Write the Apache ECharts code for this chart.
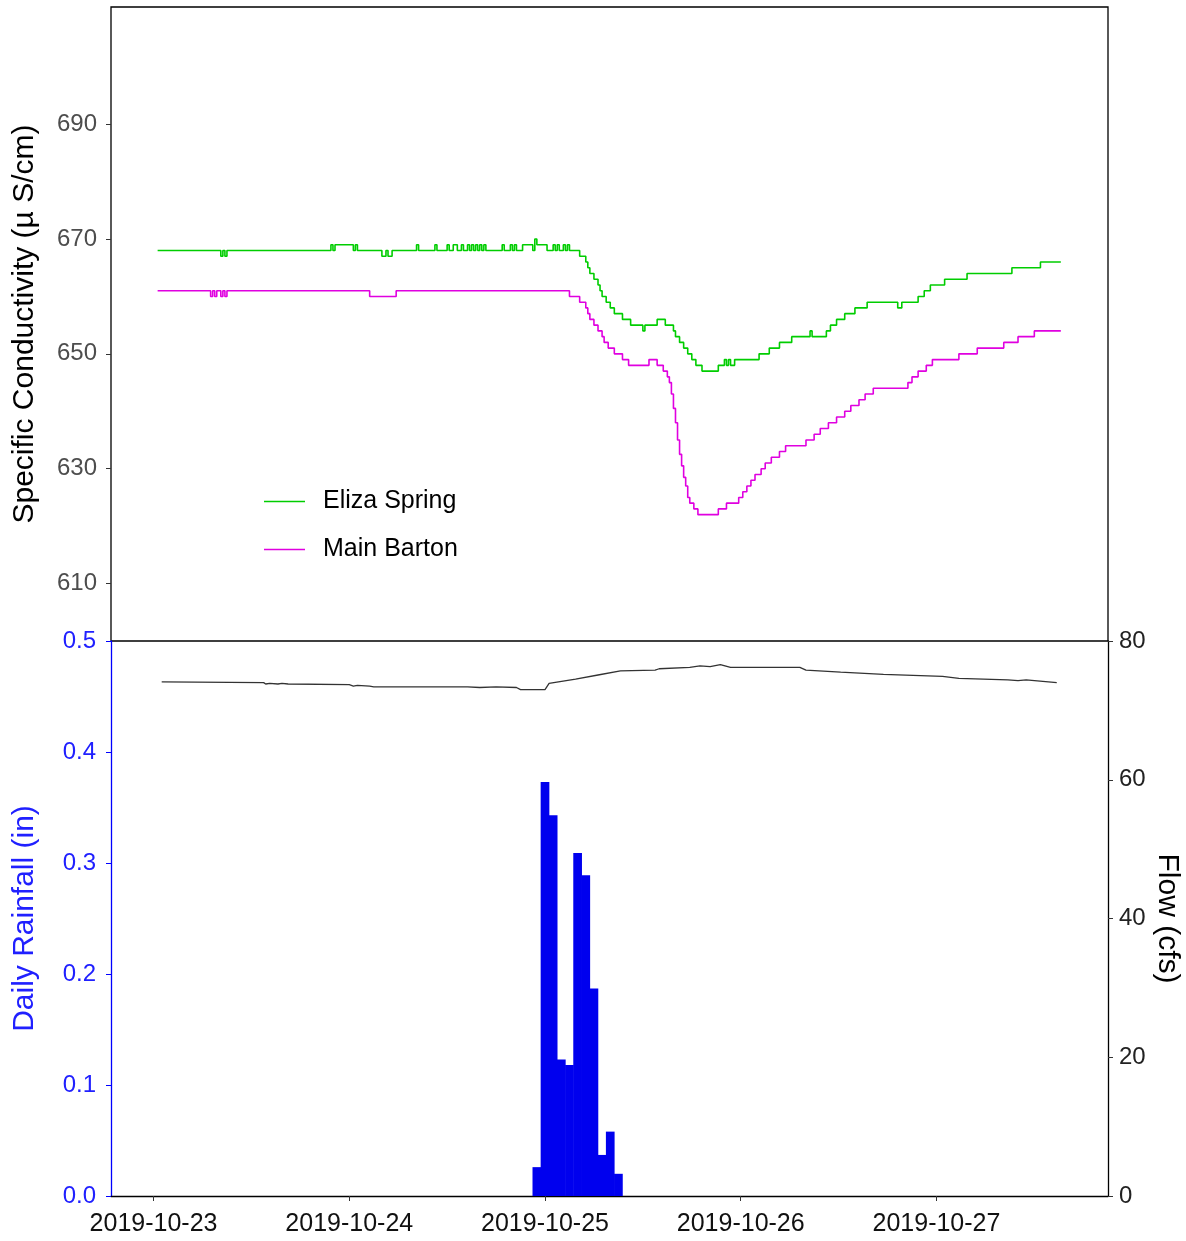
<!DOCTYPE html>
<html>
<head>
<meta charset="utf-8">
<script src="https://cdn.jsdelivr.net/npm/echarts@6/dist/echarts.min.js"></script>
<style>
  html, body { margin: 0; padding: 0; background: #fff; }
  #chart { width: 1186px; height: 1241px; }
</style>
</head>
<body>
<div id="chart"></div>
<script>
// axis ranges and tick positions
const timeMin = '2019-10-22 18:47';
const timeMax = '2019-10-27 21:02';
const dayTicks = ['2019-10-23', '2019-10-24', '2019-10-25', '2019-10-26', '2019-10-27'];
const condTicks = [610, 630, 650, 670, 690];

// specific conductivity (uS/cm), [time the value starts, value]
const elizaSpring = [
  ['2019-10-23 00:30', 668], ['2019-10-23 08:15', 667], ['2019-10-23 08:30', 668], ['2019-10-23 08:45', 667],
  ['2019-10-23 09:00', 668], ['2019-10-23 21:45', 669], ['2019-10-23 22:00', 668], ['2019-10-23 22:15', 669],
  ['2019-10-24 00:30', 668], ['2019-10-24 00:45', 669], ['2019-10-24 01:00', 668], ['2019-10-24 04:00', 667],
  ['2019-10-24 04:30', 668], ['2019-10-24 04:45', 667], ['2019-10-24 05:15', 668], ['2019-10-24 08:15', 669],
  ['2019-10-24 08:30', 668], ['2019-10-24 10:30', 669], ['2019-10-24 10:45', 668], ['2019-10-24 12:00', 669],
  ['2019-10-24 12:15', 668], ['2019-10-24 12:45', 669], ['2019-10-24 13:15', 668], ['2019-10-24 13:45', 669],
  ['2019-10-24 14:00', 668], ['2019-10-24 14:30', 669], ['2019-10-24 14:45', 668], ['2019-10-24 15:00', 669],
  ['2019-10-24 15:15', 668], ['2019-10-24 15:30', 669], ['2019-10-24 15:45', 668], ['2019-10-24 16:00', 669],
  ['2019-10-24 16:15', 668], ['2019-10-24 16:30', 669], ['2019-10-24 16:45', 668], ['2019-10-24 18:45', 669],
  ['2019-10-24 19:00', 668], ['2019-10-24 19:45', 669], ['2019-10-24 20:00', 668], ['2019-10-24 20:15', 669],
  ['2019-10-24 20:30', 668], ['2019-10-24 21:15', 669], ['2019-10-24 22:30', 668], ['2019-10-24 22:45', 670],
  ['2019-10-24 23:00', 669], ['2019-10-25 00:15', 668], ['2019-10-25 01:00', 669], ['2019-10-25 01:15', 668],
  ['2019-10-25 01:30', 669], ['2019-10-25 01:45', 668], ['2019-10-25 02:15', 669], ['2019-10-25 02:30', 668],
  ['2019-10-25 02:45', 669], ['2019-10-25 03:00', 668], ['2019-10-25 04:15', 667], ['2019-10-25 05:00', 666],
  ['2019-10-25 05:15', 665], ['2019-10-25 05:30', 664], ['2019-10-25 06:00', 663], ['2019-10-25 06:30', 662],
  ['2019-10-25 06:45', 661], ['2019-10-25 07:00', 660], ['2019-10-25 07:30', 659], ['2019-10-25 08:00', 658],
  ['2019-10-25 08:30', 657], ['2019-10-25 09:30', 656], ['2019-10-25 10:30', 655], ['2019-10-25 12:00', 654],
  ['2019-10-25 12:15', 655], ['2019-10-25 13:45', 656], ['2019-10-25 14:45', 655], ['2019-10-25 15:45', 654],
  ['2019-10-25 16:00', 653], ['2019-10-25 16:30', 652], ['2019-10-25 17:00', 651], ['2019-10-25 17:30', 650],
  ['2019-10-25 18:00', 649], ['2019-10-25 18:30', 648], ['2019-10-25 19:15', 647], ['2019-10-25 21:15', 648],
  ['2019-10-25 22:00', 649], ['2019-10-25 22:15', 648], ['2019-10-25 22:30', 649], ['2019-10-25 22:45', 648],
  ['2019-10-25 23:15', 649], ['2019-10-26 02:15', 650], ['2019-10-26 03:30', 651], ['2019-10-26 04:45', 652],
  ['2019-10-26 06:15', 653], ['2019-10-26 08:30', 654], ['2019-10-26 08:45', 653], ['2019-10-26 10:30', 654],
  ['2019-10-26 11:00', 655], ['2019-10-26 11:45', 656], ['2019-10-26 12:45', 657], ['2019-10-26 14:00', 658],
  ['2019-10-26 15:30', 659], ['2019-10-26 19:15', 658], ['2019-10-26 19:45', 659], ['2019-10-26 21:45', 660],
  ['2019-10-26 22:30', 661], ['2019-10-26 23:15', 662], ['2019-10-27 01:00', 663], ['2019-10-27 03:45', 664],
  ['2019-10-27 09:15', 665], ['2019-10-27 12:45', 666], ['2019-10-27 15:15', 666]
];
const mainBarton = [
  ['2019-10-23 00:30', 661], ['2019-10-23 07:00', 660], ['2019-10-23 07:15', 661], ['2019-10-23 07:30', 660],
  ['2019-10-23 07:45', 661], ['2019-10-23 08:15', 660], ['2019-10-23 08:30', 661], ['2019-10-23 08:45', 660],
  ['2019-10-23 09:00', 661], ['2019-10-24 02:30', 660], ['2019-10-24 05:45', 661], ['2019-10-25 03:00', 660],
  ['2019-10-25 04:15', 659], ['2019-10-25 05:00', 658], ['2019-10-25 05:15', 657], ['2019-10-25 05:30', 656],
  ['2019-10-25 06:00', 655], ['2019-10-25 06:30', 654], ['2019-10-25 07:00', 653], ['2019-10-25 07:15', 652],
  ['2019-10-25 07:45', 651], ['2019-10-25 08:30', 650], ['2019-10-25 09:30', 649], ['2019-10-25 10:15', 648],
  ['2019-10-25 12:45', 649], ['2019-10-25 13:45', 648], ['2019-10-25 14:30', 647], ['2019-10-25 15:00', 646],
  ['2019-10-25 15:15', 645], ['2019-10-25 15:30', 643], ['2019-10-25 15:45', 640.5], ['2019-10-25 16:00', 638],
  ['2019-10-25 16:15', 635], ['2019-10-25 16:30', 632.5], ['2019-10-25 16:45', 630.5], ['2019-10-25 17:00', 628.5],
  ['2019-10-25 17:15', 627], ['2019-10-25 17:30', 625], ['2019-10-25 17:45', 624], ['2019-10-25 18:15', 623],
  ['2019-10-25 18:45', 622], ['2019-10-25 21:15', 623], ['2019-10-25 22:15', 624], ['2019-10-25 23:45', 625],
  ['2019-10-26 00:15', 626], ['2019-10-26 00:45', 627], ['2019-10-26 01:15', 628], ['2019-10-26 01:45', 629],
  ['2019-10-26 02:30', 630], ['2019-10-26 03:00', 631], ['2019-10-26 03:45', 632], ['2019-10-26 04:45', 633],
  ['2019-10-26 05:30', 634], ['2019-10-26 08:00', 635], ['2019-10-26 09:00', 636], ['2019-10-26 09:45', 637],
  ['2019-10-26 10:45', 638], ['2019-10-26 11:45', 639], ['2019-10-26 12:45', 640], ['2019-10-26 13:30', 641],
  ['2019-10-26 14:30', 642], ['2019-10-26 15:15', 643], ['2019-10-26 16:15', 644], ['2019-10-26 20:30', 645],
  ['2019-10-26 21:00', 646], ['2019-10-26 21:45', 647], ['2019-10-26 22:45', 648], ['2019-10-26 23:30', 649],
  ['2019-10-27 02:45', 650], ['2019-10-27 05:00', 651], ['2019-10-27 08:15', 652], ['2019-10-27 10:00', 653],
  ['2019-10-27 12:00', 654], ['2019-10-27 15:15', 654]
];

// flow (cfs)
const flowCfs = [
  ['2019-10-23 01:00', 74.1], ['2019-10-23 13:30', 74.0], ['2019-10-23 13:45', 73.8], ['2019-10-23 14:15', 73.9],
  ['2019-10-23 15:15', 73.8], ['2019-10-23 15:45', 73.9], ['2019-10-23 16:30', 73.8], ['2019-10-24 00:00', 73.7],
  ['2019-10-24 00:30', 73.5], ['2019-10-24 01:00', 73.6], ['2019-10-24 02:30', 73.5], ['2019-10-24 03:00', 73.4],
  ['2019-10-24 14:30', 73.4], ['2019-10-24 16:00', 73.3], ['2019-10-24 18:00', 73.4], ['2019-10-24 20:30', 73.3],
  ['2019-10-24 21:00', 73.0], ['2019-10-25 00:00', 73.0], ['2019-10-25 00:30', 73.9], ['2019-10-25 03:45', 74.5],
  ['2019-10-25 06:30', 75.1], ['2019-10-25 09:15', 75.7], ['2019-10-25 13:30', 75.8], ['2019-10-25 14:00', 76.0],
  ['2019-10-25 17:45', 76.2], ['2019-10-25 19:00', 76.4], ['2019-10-25 20:15', 76.3], ['2019-10-25 21:30', 76.6],
  ['2019-10-25 22:45', 76.2], ['2019-10-26 07:15', 76.2], ['2019-10-26 08:00', 75.8], ['2019-10-26 12:15', 75.5],
  ['2019-10-26 17:30', 75.2], ['2019-10-27 00:45', 74.9], ['2019-10-27 02:45', 74.6], ['2019-10-27 08:45', 74.4],
  ['2019-10-27 10:00', 74.3], ['2019-10-27 11:00', 74.4], ['2019-10-27 14:45', 74.0]
];

// hourly rainfall (in)
const rainTimes = ['2019-10-24 23:00', '2019-10-25 00:00', '2019-10-25 01:00', '2019-10-25 02:00', '2019-10-25 03:00',
  '2019-10-25 04:00', '2019-10-25 05:00', '2019-10-25 06:00', '2019-10-25 07:00', '2019-10-25 08:00', '2019-10-25 09:00'];
const rainInches = [0.026, 0.373, 0.343, 0.123, 0.118, 0.309, 0.289, 0.187, 0.037, 0.058, 0.020];

const toMs = (s) => new Date((s.length === 10 ? s + ' 00:00' : s).replace(' ', 'T')).getTime();
const pad = (n) => String(n).padStart(2, '0');
const dayLabel = (v) => {
  const d = new Date(v);
  return d.getFullYear() + '-' + pad(d.getMonth() + 1) + '-' + pad(d.getDate());
};
const dayMs = dayTicks.map(toMs);

const FONT = '"Liberation Sans", Arial, sans-serif';
const chart = echarts.init(document.getElementById('chart'));
chart.setOption({
  animation: false,
  textStyle: { fontFamily: FONT },
  grid: [
    { left: 111, right: 78, top: 7, height: 634, outerBoundsMode: 'none', containLabel: false,
      show: true, borderColor: '#000', borderWidth: 1.3, backgroundColor: 'transparent' },
    { left: 111, right: 78, top: 641, height: 555, outerBoundsMode: 'none', containLabel: false }
  ],
  legend: {
    data: ['Eliza Spring', 'Main Barton'],
    orient: 'vertical',
    left: 259,
    top: 484,
    icon: 'rect',
    itemWidth: 41,
    itemHeight: 1.6,
    itemGap: 23,
    textStyle: { fontSize: 25, color: '#000', fontFamily: FONT, padding: [0, 0, 0, 13] }
  },
  xAxis: [
    {
      type: 'value', gridIndex: 0, min: toMs(timeMin), max: toMs(timeMax),
      axisLine: { show: false }, axisTick: { show: false }, axisLabel: { show: false }, splitLine: { show: false }
    },
    {
      type: 'value', gridIndex: 1, min: toMs(timeMin), max: toMs(timeMax),
      axisLine: { lineStyle: { color: '#000', width: 1.3 } },
      axisTick: { customValues: dayMs, length: 5, lineStyle: { color: '#333' } },
      axisLabel: { customValues: dayMs, formatter: dayLabel, fontSize: 25, color: '#111', margin: 16, hideOverlap: false },
      splitLine: { show: false }
    }
  ],
  yAxis: [
    {
      type: 'value', gridIndex: 0, min: 600, max: 710.4,
      axisLine: { show: false },
      axisTick: { show: true, customValues: condTicks, length: 5, lineStyle: { color: '#333' } },
      axisLabel: { customValues: condTicks, fontSize: 24, color: '#4d4d4d', margin: 14 },
      splitLine: { show: false },
      name: 'Specific Conductivity (\u00b5 S/cm)', nameLocation: 'middle', nameGap: 71,
      nameTextStyle: { fontSize: 30, color: '#000' }
    },
    {
      type: 'value', gridIndex: 1, position: 'left', min: 0, max: 0.5, interval: 0.1,
      axisLine: { show: true, lineStyle: { color: '#0000ff', width: 1.3 } },
      axisTick: { show: true, length: 5, lineStyle: { color: '#0000ff' } },
      axisLabel: { fontSize: 24, color: '#2020ff', margin: 15, formatter: (v) => v.toFixed(1) },
      splitLine: { show: false },
      name: 'Daily Rainfall (in)', nameLocation: 'middle', nameGap: 71,
      nameTextStyle: { fontSize: 30, color: '#2020ff' }
    },
    {
      type: 'value', gridIndex: 1, position: 'right', min: 0, max: 80, interval: 20,
      axisLine: { show: true, lineStyle: { color: '#000', width: 1.3 } },
      axisTick: { show: true, length: 5, lineStyle: { color: '#333' } },
      axisLabel: { fontSize: 24, color: '#222', margin: 11 },
      splitLine: { show: false },
      name: 'Flow (cfs)', nameLocation: 'middle', nameRotate: -90, nameGap: 44, nameMoveOverlap: false,
      nameTextStyle: { fontSize: 30, color: '#000' }
    }
  ],
  series: [
    {
      name: 'Eliza Spring', type: 'line', xAxisIndex: 0, yAxisIndex: 0, step: 'end', symbol: 'none',
      lineStyle: { color: '#00cd00', width: 1.6 }, itemStyle: { color: '#00cd00' },
      data: elizaSpring.map(([t, v]) => [toMs(t), v])
    },
    {
      name: 'Main Barton', type: 'line', xAxisIndex: 0, yAxisIndex: 0, step: 'end', symbol: 'none',
      lineStyle: { color: '#e000e0', width: 1.6 }, itemStyle: { color: '#e000e0' },
      data: mainBarton.map(([t, v]) => [toMs(t), v])
    },
    {
      name: 'Rainfall', type: 'bar', xAxisIndex: 1, yAxisIndex: 1, barWidth: 8.7,
      itemStyle: { color: '#0000ee' },
      data: rainTimes.map((t, i) => [toMs(t), rainInches[i]])
    },
    {
      name: 'Flow', type: 'line', xAxisIndex: 1, yAxisIndex: 2, symbol: 'none',
      lineStyle: { color: '#333', width: 1.3 },
      data: flowCfs.map(([t, v]) => [toMs(t), v])
    }
  ]
});
</script>
</body>
</html>
